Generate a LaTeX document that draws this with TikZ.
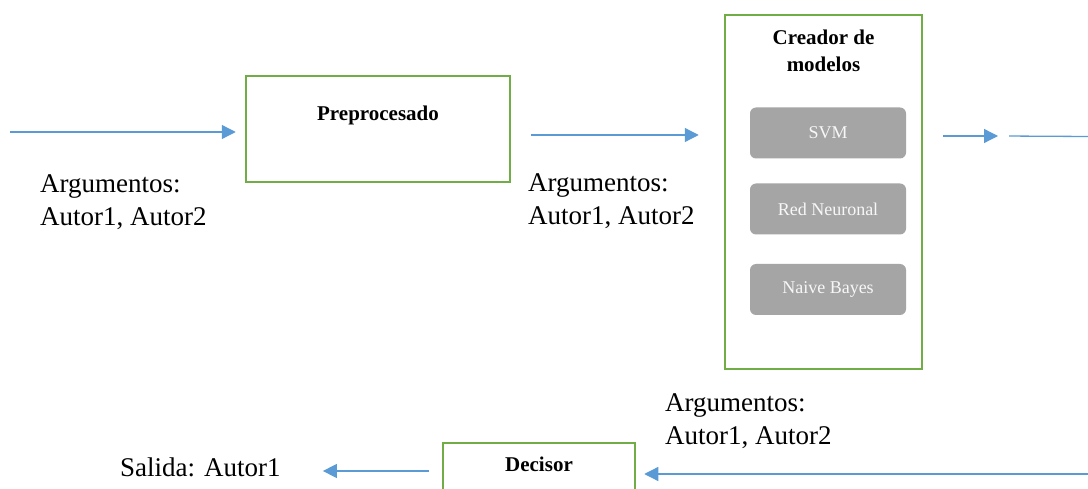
\documentclass[tikz,border=0pt]{standalone}
\usepackage{fontspec}
\setmainfont{LiberationSerif}[Extension=.ttf, UprightFont=*-Regular, BoldFont=*-Bold, ItalicFont=*-Italic, BoldItalicFont=*-BoldItalic]
\usetikzlibrary{arrows.meta}
\definecolor{boxgreen}{HTML}{70AD47}
\definecolor{arrowblue}{HTML}{5B9BD5}
\definecolor{modelgray}{HTML}{A5A5A5}
\begin{document}
\begin{tikzpicture}[x=1pt,y=-1pt,
  stagebox/.style={draw=boxgreen, line width=2.5pt, fill=white, inner sep=0},
  modelbox/.style={fill=modelgray, rounded corners=6pt, text=white!94!gray,
    font=\fontsize{18}{20}\selectfont, minimum width=156pt, minimum height=51pt, inner sep=0},
  titletext/.style={font=\fontsize{21}{27}\selectfont\bfseries, inner sep=0},
  argtext/.style={font=\fontsize{27}{33}\selectfont, align=left, anchor=north west, inner sep=0},
  flow/.style={draw=arrowblue, line width=1.3pt, -{Triangle[length=14pt,width=14pt]}},
  plainflow/.style={draw=arrowblue, line width=1.3pt},
]
\useasboundingbox (0,0) rectangle (1088,489);
\clip (0,0) rectangle (1088,489);

% stage boxes
\node[stagebox, minimum width=264pt, minimum height=106pt,
  label={[titletext, anchor=base, yshift=-46pt]north:Preprocesado}] (pre) at (378,129) {};
\node[stagebox, minimum width=197pt, minimum height=354pt] (cre) at (823.5,192) {};
\node[titletext, align=center, anchor=north] (cretitle) at (823.5,30) {Creador de\\modelos};
\node[stagebox, minimum width=192pt, minimum height=100pt,
  label={[titletext, anchor=base, yshift=-30pt]north:Decisor}] (dec) at (539,493) {};

% model boxes
\node[modelbox] (svm) at (828,133) {SVM};
\node[modelbox] (red) at (828,209) {Red Neuronal};
\node[modelbox] (nb) at (828,289.5) {Naive Bayes};

% argument texts
\node[argtext] (arg1) at (40,174) {Argumentos:\\Autor1, Autor2};
\node[argtext] (arg2) at (528,173) {Argumentos:\\Autor1, Autor2};
\node[argtext] (arg3) at (665,393) {Argumentos:\\Autor1, Autor2};
\node[font=\fontsize{27}{31}\selectfont, anchor=base west, inner sep=0] (sal) at (120,476) {Salida: Autor1};

% coordinates for free ends
\coordinate (in1) at (10,132);
\coordinate (a2) at (600,135);
\coordinate (mid3) at (1003,136);
\coordinate (out3) at (1088,136.5);
\coordinate (in4) at (1088,474);
\coordinate (a5) at (375,471);

% connectors
\draw[flow, shorten >=9pt] (in1) -- (in1 -| pre.west);
\draw[flow, shorten <=20pt, shorten >=25pt] (pre.east |- a2) -- (cre.west |- a2);
\draw[flow, shorten <=20pt, shorten >=5pt] (cre.east |- mid3) -- (mid3);
\draw[plainflow, shorten <=6pt] (mid3) -- (out3);
\draw[flow, shorten >=8pt] (in4) -- (in4 -| dec.east);
\draw[flow, shorten <=13pt, shorten >=42pt] (dec.west |- a5) -- (a5 -| sal.east);
\end{tikzpicture}
\end{document}
